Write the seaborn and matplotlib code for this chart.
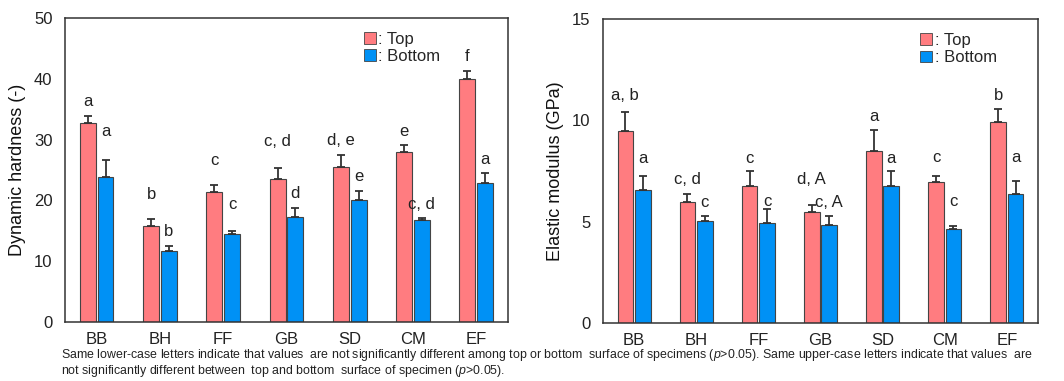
import numpy as np
import pandas as pd
import matplotlib
matplotlib.use("Agg")
import matplotlib.pyplot as plt
import seaborn as sns
from matplotlib.patches import Patch

# ---- data ----
species = ["BB", "BH", "FF", "GB", "SD", "CM", "EF"]
surfaces = ["Top", "Bottom"]

hardness_top = [32.8, 15.8, 21.4, 23.5, 25.5, 28.0, 40.0]
hardness_top_sd = [1.1, 1.1, 1.1, 1.9, 2.0, 1.1, 1.3]
hardness_bottom = [23.8, 11.6, 14.4, 17.2, 20.0, 16.7, 22.8]
hardness_bottom_sd = [2.9, 0.9, 0.5, 1.6, 1.6, 0.4, 1.7]
hardness_top_letters = ["a", "b", "c", "c, d", "d, e", "e", "f"]
hardness_bottom_letters = ["a", "b", "c", "d", "e", "c, d", "a"]

modulus_top = [9.47, 5.97, 6.77, 5.48, 8.49, 6.96, 9.90]
modulus_top_sd = [0.94, 0.41, 0.72, 0.36, 1.02, 0.30, 0.68]
modulus_bottom = [6.58, 5.05, 4.94, 4.85, 6.77, 4.62, 6.36]
modulus_bottom_sd = [0.67, 0.21, 0.69, 0.41, 0.71, 0.19, 0.67]
modulus_top_letters = ["a, b", "c, d", "c", "d, A", "a", "c", "b"]
modulus_bottom_letters = ["a", "c", "c", "c, A", "a", "c", "a"]

caption = ("Same lower-case letters indicate that values  are not significantly different among top or bottom  "
           "surface of specimens ($\\it{p}$>0.05). Same upper-case letters indicate that values  are\n"
           "not significantly different between  top and bottom  surface of specimen ($\\it{p}$>0.05).")

# ---- style ----
sns.set_style("white")
plt.rcParams["font.family"] = ["Liberation Sans", "DejaVu Sans"]
plt.rcParams["mathtext.fontset"] = "custom"
plt.rcParams["mathtext.it"] = "Liberation Sans:italic"
plt.rcParams["mathtext.rm"] = "Liberation Sans"

TOP_C = "#FF7C80"
BOT_C = "#0091F5"
EDGE = "#444444"
palette = {"Top": TOP_C, "Bottom": BOT_C}

fig = plt.figure(figsize=(10.64, 3.81), dpi=100)
ax1 = fig.add_axes([0.0611, 0.1549, 0.4163, 0.7979])
ax2 = fig.add_axes([0.5667, 0.1522, 0.4088, 0.7979])


def make_frame(top, bottom):
    return pd.DataFrame({
        "species": species * 2,
        "surface": ["Top"] * len(species) + ["Bottom"] * len(species),
        "value": list(top) + list(bottom),
    })


def panel(ax, top, top_sd, bottom, bottom_sd, top_lab, bot_lab,
          top_pad, bot_pad, ylim, yticks, ylabel, legend_x):
    df = make_frame(top, bottom)
    sns.barplot(data=df, x="species", y="value", hue="surface",
                hue_order=surfaces, palette=palette, order=species,
                width=0.56, gap=0.1, errorbar=None, saturation=1,
                edgecolor=EDGE, linewidth=0.8, legend=False, ax=ax)
    groups = [(top, top_sd, top_lab, top_pad), (bottom, bottom_sd, bot_lab, bot_pad)]
    for cont, (vals, sds, labs, pads) in zip(ax.containers, groups):
        xs = [p.get_x() + p.get_width() / 2 for p in cont.patches]
        ax.errorbar(xs, vals, yerr=[np.zeros(len(vals)), sds], fmt="none",
                    ecolor="#333333", elinewidth=1.3, capsize=2.8,
                    capthick=1.3, zorder=1)
        for x, v, s, lab, pad in zip(xs, vals, sds, labs, pads):
            ax.annotate(lab, xy=(x, v + s), xytext=(0, pad * 0.72),
                        textcoords="offset points", ha="center",
                        va="center", fontsize=12, color="#222222")
    ax.set_xlim(-0.5, len(species) - 0.5)
    ax.set_ylim(*ylim)
    ax.set_yticks(yticks)
    ax.set_xlabel("")
    ax.set_ylabel(ylabel, fontsize=13, color="#111111", labelpad=6)
    ax.tick_params(axis="both", labelsize=12, colors="#222222", length=0)
    ax.tick_params(axis="y", pad=9)
    ax.tick_params(axis="x", pad=7)
    for sp in ax.spines.values():
        sp.set_visible(True)
        sp.set_color("#333333")
        sp.set_linewidth(1.1)
    handles = [Patch(facecolor=TOP_C, edgecolor=EDGE, linewidth=0.6),
               Patch(facecolor=BOT_C, edgecolor=EDGE, linewidth=0.6)]
    ax.legend(handles, [": Top", ": Bottom"], loc="upper left",
              bbox_to_anchor=(legend_x, 0.955), frameon=False,
              fontsize=12, handlelength=0.7, handleheight=0.7,
              handletextpad=0.15, labelspacing=0.15, borderpad=0,
              borderaxespad=0)


panel(ax1, hardness_top, hardness_top_sd, hardness_bottom, hardness_bottom_sd,
      hardness_top_letters, hardness_bottom_letters,
      [14, 25, 25, 26, 14, 14, 14], [28, 14, 27, 14, 14, 14, 14],
      (0, 50), [0, 10, 20, 30, 40, 50], "Dynamic hardness (-)", 0.675)
panel(ax2, modulus_top, modulus_top_sd, modulus_bottom, modulus_bottom_sd,
      modulus_top_letters, modulus_bottom_letters,
      [17, 14, 13, 25, 14, 18, 13], [18, 14, 7, 14, 13, 24, 23],
      (0, 15), [0, 5, 10, 15], "Elastic modulus (GPa)", 0.73)

fig.text(0.057, 0.088, caption, ha="left", va="top", fontsize=8.9,
         color="#222222", linespacing=1.0)

fig.savefig("out.png", dpi=100)
